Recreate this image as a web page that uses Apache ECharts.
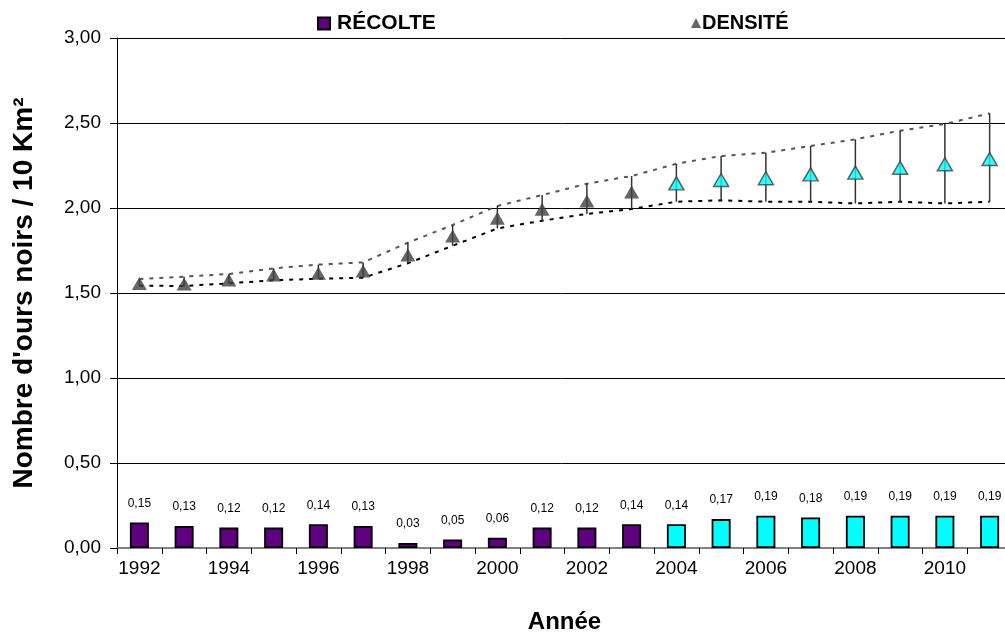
<!DOCTYPE html>
<html>
<head>
<meta charset="utf-8">
<script src="https://cdn.jsdelivr.net/npm/echarts@6/dist/echarts.min.js"></script>
<style>
  html, body { margin: 0; padding: 0; background: #fff; }
  #chart { width: 1005px; height: 640px; }
</style>
</head>
<body>
<div id="chart"></div>
<script>
// Années de suivi
const annees = ['1992','1993','1994','1995','1996','1997','1998','1999','2000','2001',
                '2002','2003','2004','2005','2006','2007','2008','2009','2010','2011'];
// Récolte (ours / 10 km²)
const recolte = [0.15,0.13,0.12,0.12,0.14,0.13,0.03,0.05,0.06,0.12,
                 0.12,0.14,0.14,0.17,0.19,0.18,0.19,0.19,0.19,0.19];
// Densité estimée (ours / 10 km²)
const densite = [1.556,1.553,1.576,1.606,1.616,1.629,1.724,1.835,1.939,1.992,
                 2.041,2.094,2.145,2.165,2.175,2.198,2.208,2.237,2.257,2.288];
// Bornes supérieure et inférieure de l'estimation
const borneSup = [1.582,1.596,1.612,1.645,1.667,1.680,1.796,1.900,2.012,2.076,
                  2.143,2.188,2.260,2.306,2.325,2.365,2.404,2.455,2.494,2.557];
const borneInf = [1.543,1.541,1.557,1.575,1.584,1.590,1.675,1.778,1.880,1.925,
                  1.965,1.994,2.037,2.045,2.037,2.037,2.027,2.037,2.027,2.037];
// Graduations de l'axe vertical
const yMin = 0, yMax = 3, yPas = 0.5;
// Première année projetée (couleur cyan)
const debutProjection = '2004';

const VIOLET = '#5E0080';
const CYAN = '#00FFFF';
const GRIS = '#404040';
const FONT = '"Liberation Sans", Arial, sans-serif';

const virgule = v => v.toFixed(2).replace('.', ',');
const iProj = annees.indexOf(debutProjection);

const barres = recolte.map((v, i) => ({
  value: v,
  itemStyle: { color: i >= iProj ? CYAN : VIOLET }
}));

const points = densite.map((v, i) => (
  i >= iProj
    ? { value: v, itemStyle: { color: CYAN, borderColor: GRIS, borderWidth: 1.5 } }
    : { value: v }
));

const barresErreur = annees.map((a, i) => [i, borneInf[i], borneSup[i]]);

const chart = echarts.init(document.getElementById('chart'), null, { renderer: 'canvas' });

chart.setOption({
  animation: false,
  backgroundColor: '#fff',
  textStyle: { fontFamily: FONT },
  grid: { left: 117, top: 38, bottom: 92, right: -7, containLabel: false, outerBoundsMode: 'none' },
  legend: [
    {
      data: [{ name: 'RÉCOLTE', icon: 'rect' }],
      left: 312, top: 8,
      itemWidth: 12, itemHeight: 12,
      textStyle: { fontFamily: FONT, fontSize: 21, fontWeight: 'bold', color: '#000', padding: [0, 0, 0, 2] },
      selectedMode: false
    },
    {
      data: [{ name: 'DENSITÉ', icon: 'triangle' }],
      left: 686, top: 8,
      itemWidth: 10, itemHeight: 10,
      textStyle: { fontFamily: FONT, fontSize: 20, fontWeight: 'bold', color: '#000', padding: [0, 0, 0, -4] },
      selectedMode: false
    }
  ],
  xAxis: {
    type: 'category',
    data: annees,
    boundaryGap: true,
    name: 'Année',
    nameLocation: 'middle',
    nameGap: 62,
    nameTextStyle: { fontFamily: FONT, fontSize: 24, fontWeight: 'bold', color: '#000' },
    axisLine: { lineStyle: { color: '#808080', width: 2 } },
    axisTick: { show: true, interval: 0, length: 6, lineStyle: { color: '#000', width: 1 } },
    axisLabel: { interval: 1, fontFamily: FONT, fontSize: 19, color: '#000', margin: 11 },
    splitLine: { show: false }
  },
  yAxis: {
    type: 'value',
    min: yMin, max: yMax, interval: yPas,
    name: "Nombre d'ours noirs / 10 Km²",
    nameLocation: 'middle',
    nameGap: 79,
    nameTextStyle: { fontFamily: FONT, fontSize: 28, fontWeight: 'bold', color: '#000' },
    axisLine: { show: true, lineStyle: { color: '#000', width: 1 } },
    axisTick: { show: true, length: 7, lineStyle: { color: '#000', width: 1 } },
    axisLabel: { formatter: virgule, fontFamily: FONT, fontSize: 19, color: '#000', margin: 16 },
    splitLine: { show: true, lineStyle: { color: '#000', width: 1 } }
  },
  series: [
    {
      name: 'RÉCOLTE',
      type: 'bar',
      data: barres,
      barWidth: 19,
      itemStyle: { color: VIOLET, borderColor: '#000', borderWidth: 1.8 },
      label: {
        show: true, position: 'top', distance: 13,
        formatter: p => virgule(p.value),
        fontFamily: FONT, fontSize: 12, color: '#000'
      },
      z: 3
    },
    {
      name: 'borneSup',
      type: 'line',
      data: borneSup,
      symbol: 'none',
      lineStyle: { color: '#555', width: 2, type: [4, 6] },
      z: 2
    },
    {
      name: 'borneInf',
      type: 'line',
      data: borneInf,
      symbol: 'none',
      lineStyle: { color: '#000', width: 2, type: [4, 6] },
      z: 2
    },
    {
      name: 'intervalle',
      type: 'custom',
      data: barresErreur,
      encode: { x: 0, y: [1, 2] },
      renderItem: (params, api) => {
        const p1 = api.coord([api.value(0), api.value(1)]);
        const p2 = api.coord([api.value(0), api.value(2)]);
        return {
          type: 'line',
          shape: { x1: p1[0], y1: p1[1], x2: p2[0], y2: p2[1] },
          style: { stroke: '#333', lineWidth: 1.5 }
        };
      },
      z: 3
    },
    {
      name: 'DENSITÉ',
      type: 'scatter',
      data: points,
      symbol: 'triangle',
      symbolSize: [15, 13],
      itemStyle: { color: GRIS },
      z: 5
    }
  ]
});
</script>
</body>
</html>
